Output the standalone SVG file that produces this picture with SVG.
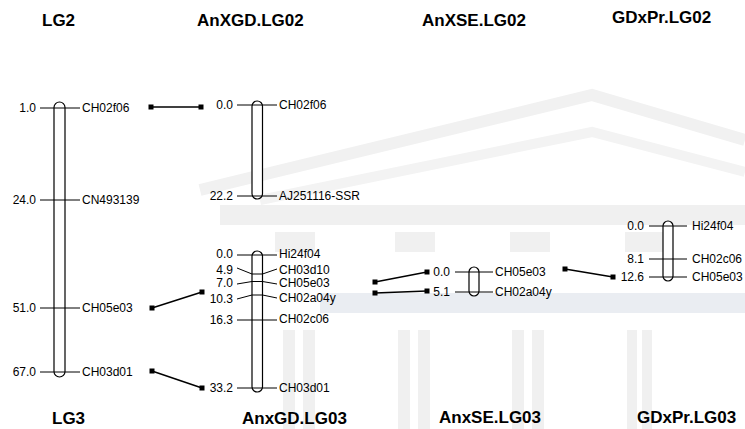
<svg xmlns="http://www.w3.org/2000/svg" width="745" height="429" viewBox="0 0 745 429">
<style>
text{font-family:"Liberation Sans",Arial,sans-serif;fill:#000}
.h{font-size:17px;font-weight:bold}
.s{font-size:12px}
.r{text-anchor:end}
.chr{fill:#fff;stroke:#000;stroke-width:1.2}
.tk{fill:none;stroke:#000;stroke-width:1}
.cn{stroke:#000;stroke-width:1.5}
.wm{fill:#f0f0f0}
.wb{fill:#eaedf2}
</style>
<defs>
<rect id="sq" x="-2.5" y="-2.5" width="5" height="5" fill="#000"/>
</defs>
<rect width="745" height="429" fill="#fff"/>
<g id="watermark">
<polyline points="200,190 592,95 745,140" fill="none" stroke="#f1f1f1" stroke-width="12"/>
<polyline points="260,200 592,132 745,172" fill="none" stroke="#f3f3f3" stroke-width="10"/>
<rect class="wm" x="220" y="205" width="525" height="20"/>
<rect class="wm" x="275" y="232" width="40" height="20"/>
<rect class="wm" x="395" y="232" width="40" height="20"/>
<rect class="wm" x="510" y="232" width="40" height="20"/>
<rect class="wm" x="625" y="232" width="40" height="20"/>
<rect class="wb" x="320" y="293" width="425" height="20"/>
<rect class="wm" x="398" y="330" width="12" height="99"/>
<rect class="wm" x="418" y="330" width="12" height="99"/>
<rect class="wm" x="512" y="330" width="12" height="99"/>
<rect class="wm" x="532" y="330" width="12" height="99"/>
<rect class="wm" x="627" y="330" width="10" height="99"/>
<rect class="wm" x="642" y="330" width="10" height="99"/>
<rect class="wm" x="283" y="330" width="12" height="99"/>
<rect class="wm" x="303" y="330" width="12" height="99"/>
</g>
<g id="titles">
<text class="h" x="42" y="26">LG2</text>
<text class="h" x="197" y="26">AnXGD.LG02</text>
<text class="h" x="422" y="26">AnXSE.LG02</text>
<text class="h" x="612" y="23">GDxPr.LG02</text>
<text class="h" x="52" y="424">LG3</text>
<text class="h" x="242" y="424">AnxGD.LG03</text>
<text class="h" x="439" y="423">AnxSE.LG03</text>
<text class="h" x="637" y="423">GDxPr.LG03</text>
</g>
<g id="connectors">
<line class="cn" x1="151" y1="107" x2="201" y2="107"/>
<line class="cn" x1="152" y1="308" x2="202" y2="292"/>
<line class="cn" x1="152" y1="371" x2="202" y2="388"/>
<line class="cn" x1="375" y1="282" x2="427" y2="272"/>
<line class="cn" x1="375" y1="293" x2="427" y2="291"/>
<line class="cn" x1="565" y1="269" x2="613" y2="277"/>
<use href="#sq" x="151" y="107"/><use href="#sq" x="201" y="107"/>
<use href="#sq" x="152" y="308"/><use href="#sq" x="202" y="292"/>
<use href="#sq" x="152" y="371"/><use href="#sq" x="202" y="388"/>
<use href="#sq" x="375" y="282"/><use href="#sq" x="427" y="272"/>
<use href="#sq" x="375" y="293"/><use href="#sq" x="427" y="291"/>
<use href="#sq" x="565" y="269"/><use href="#sq" x="613" y="277"/>
</g>
<g id="LG2">
<rect class="chr" x="54" y="102" width="11" height="275" rx="5.5"/>
<path class="tk" d="M40,108H80M40,200H80M40,308H80M40,372H80"/>
<text class="s r" x="36" y="112">1.0</text>
<text class="s r" x="36" y="204">24.0</text>
<text class="s r" x="36" y="312">51.0</text>
<text class="s r" x="36" y="376">67.0</text>
<text class="s" x="82" y="112">CH02f06</text>
<text class="s" x="82" y="204">CN493139</text>
<text class="s" x="82" y="312">CH05e03</text>
<text class="s" x="82" y="376">CH03d01</text>
</g>
<g id="AnXGD_LG02">
<rect class="chr" x="252" y="101" width="10.5" height="98" rx="5.25"/>
<path class="tk" d="M237,105H277M237,196H277"/>
<text class="s r" x="233" y="109">0.0</text>
<text class="s r" x="233" y="200">22.2</text>
<text class="s" x="279" y="109">CH02f06</text>
<text class="s" x="279" y="200">AJ251116-SSR</text>
</g>
<g id="AnxGD_LG03">
<rect class="chr" x="252" y="251" width="10.5" height="141" rx="5.25"/>
<path class="tk" d="M237,255H277M237,268L252,274H262.5L277,269M237,284L252,281.5H262.5L277,284M237,299L252,295H262.5L277,298M237,320H277M237,388H277"/>
<text class="s r" x="233" y="258">0.0</text>
<text class="s r" x="233" y="274">4.9</text>
<text class="s r" x="233" y="287">7.0</text>
<text class="s r" x="233" y="303">10.3</text>
<text class="s r" x="233" y="324">16.3</text>
<text class="s r" x="233" y="392">33.2</text>
<text class="s" x="279" y="258">Hi24f04</text>
<text class="s" x="279" y="274">CH03d10</text>
<text class="s" x="279" y="287">CH05e03</text>
<text class="s" x="279" y="302">CH02a04y</text>
<text class="s" x="279" y="323">CH02c06</text>
<text class="s" x="279" y="392">CH03d01</text>
</g>
<g id="AnxSE_LG03">
<rect class="chr" x="469" y="267" width="10" height="29" rx="5"/>
<path class="tk" d="M455,272H493M455,292H493"/>
<text class="s r" x="450" y="276">0.0</text>
<text class="s r" x="450" y="296">5.1</text>
<text class="s" x="495" y="276">CH05e03</text>
<text class="s" x="495" y="296">CH02a04y</text>
</g>
<g id="GDxPr_LG03">
<rect class="chr" x="663" y="221" width="10" height="60" rx="5"/>
<path class="tk" d="M649,226H687M649,259H687M649,277H687"/>
<text class="s r" x="644" y="230">0.0</text>
<text class="s r" x="644" y="263">8.1</text>
<text class="s r" x="644" y="281">12.6</text>
<text class="s" x="692" y="230">Hi24f04</text>
<text class="s" x="692" y="263">CH02c06</text>
<text class="s" x="692" y="281">CH05e03</text>
</g>
</svg>
